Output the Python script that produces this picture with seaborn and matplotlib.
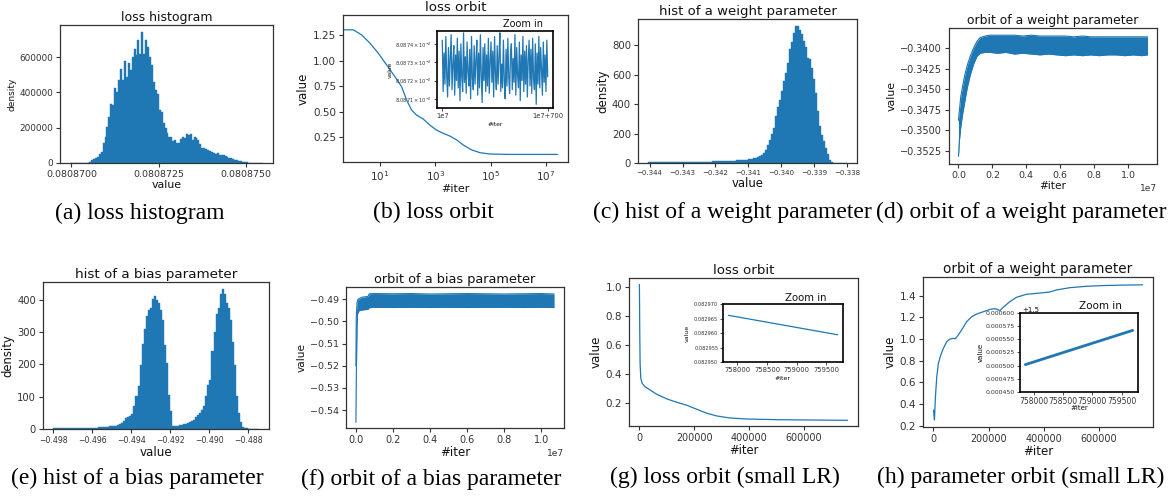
import numpy as np
import pandas as pd
import matplotlib
matplotlib.use("Agg")
import matplotlib.pyplot as plt
from matplotlib import ticker
import seaborn as sns

sns.set_theme(style="ticks")
plt.rcParams["font.family"] = ["DejaVu Sans"]
plt.rcParams.update({
    "axes.edgecolor": "#333333",
    "axes.linewidth": 0.9,
    "xtick.color": "#333333",
    "ytick.color": "#333333",
    "xtick.major.size": 3,
    "ytick.major.size": 3,
    "xtick.major.width": 0.8,
    "ytick.major.width": 0.8,
    "xtick.major.pad": 2,
    "ytick.major.pad": 2,
    "axes.labelcolor": "#111111",
    "text.color": "#111111",
    "mathtext.fontset": "dejavusans",
    "axes.unicode_minus": True,
})

BLUE = "#1f77b4"
W, H = 1174, 499

# ---------------------------------------------------------------- data
# (a) loss histogram (density per bin)
loss_hist_range = (0.08086995, 0.0808755)
loss_hist_heights = [
    300, 300, 400, 400, 500, 600, 800, 1000, 1500, 2500,
    5000, 15000, 25000, 30000, 34000, 50000, 65000, 112000, 150000, 206000,
    262000, 334000, 328000, 427000, 403000, 469000, 534000, 469000, 577000, 487000,
    566000, 525000, 600000, 647000, 609000, 694000, 619000, 744000, 619000, 694000,
    656000, 600000, 553000, 459000, 412000, 390000, 300000, 290000, 225000, 197000,
    169000, 146000, 150000, 122000, 131000, 112000, 112000, 137000, 146000, 141000,
    165000, 159000, 165000, 131000, 150000, 141000, 128000, 109000, 84000, 84000,
    79000, 71000, 66000, 60000, 56000, 52000, 56000, 47000, 45000, 47000,
    41000, 34000, 28000, 26000, 22000, 19000, 15000, 11000, 9000, 7500,
    5600, 3700, 2000, 1500, 800, 500, 300, 200, 100, 100,
]

# (b) loss orbit (log x)
loss_iter = [0.4, 1.09, 2.19, 4.37, 8.7, 17.4, 34.7, 60.3, 91.2, 138, 209, 363,
             631, 1096, 1905, 3311, 5888, 10233, 20417, 40738, 93325, 489779, 2.57e7]
loss_value = [1.30, 1.30, 1.25, 1.169, 1.071, 0.957, 0.842, 0.745, 0.615, 0.517, 0.468,
              0.429, 0.370, 0.321, 0.289, 0.263, 0.224, 0.175, 0.127, 0.100, 0.087, 0.083, 0.083]
# (b) inset: loss over iterations 1e7 .. 1e7+700
zoom_b_loss = [
    0.0808742, 0.0808714, 0.0808735, 0.0808718, 0.0808744, 0.0808723, 0.0808711, 0.0808738, 0.0808717, 0.0808732,
    0.0808745, 0.0808715, 0.0808728, 0.0808739, 0.0808712, 0.0808734, 0.0808720, 0.0808743, 0.0808716, 0.0808736,
    0.0808709, 0.0808740, 0.0808722, 0.0808714, 0.0808746, 0.0808719, 0.0808733, 0.0808713, 0.0808741, 0.0808725,
    0.0808717, 0.0808737, 0.0808710, 0.0808744, 0.0808721, 0.0808715, 0.0808739, 0.0808718, 0.0808731, 0.0808742,
    0.0808712, 0.0808735, 0.0808716, 0.0808745, 0.0808723, 0.0808708, 0.0808738, 0.0808720, 0.0808740, 0.0808714,
    0.0808734, 0.0808717, 0.0808743, 0.0808713, 0.0808730, 0.0808741, 0.0808719, 0.0808736, 0.0808711, 0.0808744,
    0.0808724, 0.0808715, 0.0808739, 0.0808718, 0.0808733, 0.0808746, 0.0808714, 0.0808729, 0.0808716, 0.0808742,
    0.0808720, 0.0808710, 0.0808737, 0.0808717, 0.0808743, 0.0808722, 0.0808713, 0.0808735, 0.0808740, 0.0808715,
    0.0808732, 0.0808719, 0.0808745, 0.0808712, 0.0808738, 0.0808723, 0.0808716, 0.0808741, 0.0808709, 0.0808734,
    0.0808720, 0.0808744, 0.0808714, 0.0808736, 0.0808718, 0.0808739, 0.0808711, 0.0808731, 0.0808742, 0.0808717,
    0.0808737, 0.0808713, 0.0808743, 0.0808721, 0.0808715, 0.0808740, 0.0808707, 0.0808735, 0.0808718, 0.0808744,
    0.0808716, 0.0808738, 0.0808726, 0.0808712, 0.0808741, 0.0808719, 0.0808734, 0.0808714, 0.0808742, 0.0808722,
]
zoom_b_start, zoom_b_span = 1e7, 700

# (c) histogram of a weight parameter
weight_hist_range = (-0.34405, -0.33800)
weight_hist_heights = (
    [6, 7, 7, 7, 7, 7, 7, 7, 7, 7, 7, 7, 7, 7, 7, 7, 7, 7, 7, 7, 7, 7, 7, 7, 7, 7, 7, 7, 7, 7, 7, 8]
    + [13, 14, 14, 14, 14, 14, 14, 14, 14, 15, 15, 16]
    + [17, 18, 18, 18, 19, 20]
    + [27, 28, 30, 32, 35, 40]
    + [45, 54, 68, 90, 120, 154, 197, 238, 317, 380, 430, 487, 555, 612, 680, 770, 822, 884,
       930, 929, 902, 872, 827, 789, 714, 702, 646, 571, 476, 351, 254, 193, 147, 102, 61, 23, 9]
    + [3, 2, 2, 1, 1, 1, 1]
)

# (d) orbit of a weight parameter: envelope of the oscillating trajectory
d_iter = [0, 59000, 137000, 255000, 390000, 530000, 690000, 880000, 1080000, 1270000,
          1570000, 1860000, 2300000, 2800000, 3300000, 3800000, 4300000, 4800000, 5300000, 5800000,
          6300000, 6800000, 7300000, 7800000, 8300000, 8800000, 9300000, 9800000, 10300000, 10800000,
          11140000]
d_upper = [-0.3488, -0.3475, -0.3459, -0.3445, -0.3431, -0.3420, -0.3410, -0.3400, -0.3392, -0.3387,
           -0.3385, -0.3384, -0.3384, -0.3384, -0.3384, -0.3385, -0.3384, -0.3385, -0.3385, -0.3385,
           -0.3385, -0.3386, -0.3385, -0.3386, -0.3386, -0.3386, -0.3386, -0.3386, -0.3386, -0.3386,
           -0.3386]
d_lower = [-0.3532, -0.3512, -0.3496, -0.3479, -0.3463, -0.3447, -0.3433, -0.3420, -0.3410, -0.3406,
           -0.3405, -0.3405, -0.3406, -0.3405, -0.3407, -0.3406, -0.3407, -0.3408, -0.3407, -0.3408,
           -0.3409, -0.3408, -0.3409, -0.3408, -0.3409, -0.3408, -0.3408, -0.3409, -0.3408, -0.3409,
           -0.3408]

# (e) histogram of a bias parameter
bias_hist_range = (-0.4980, -0.48747)
bias_hist_heights = (
    [2, 3, 3, 2, 3, 3, 3, 2, 3, 3, 3, 3, 3, 3, 3, 4, 3, 3, 4, 4, 4, 4]
    + [5, 5, 5, 6]
    + [7, 8, 8, 9]
    + [10, 12, 15]
    + [18, 26, 34, 37, 39, 47, 70, 101, 132, 199, 263, 309, 348, 369, 374, 402, 412, 400,
       390, 369, 336, 261, 204, 106, 55]
    + [10, 8, 9, 13, 13, 14, 16, 18, 21, 24, 29, 37, 42, 49, 60, 70, 101, 137, 153, 240,
       301, 357, 374, 418, 433, 418, 390, 374, 338, 270, 199, 101, 49, 21, 6, 3]
    + [2, 1, 1, 1, 1, 1]
)

# (f) orbit of a bias parameter: envelope
f_iter = [0, 15000, 30000, 60000, 90000, 180000, 360000, 650000, 720000, 1000000,
          2000000, 3000000, 4000000, 5000000, 6000000, 7000000, 8000000, 9000000, 10000000, 10680000]
f_upper = [-0.5200, -0.5000, -0.4960, -0.4915, -0.4903, -0.4896, -0.4890, -0.4887, -0.4875, -0.4874,
           -0.4875, -0.4874, -0.4876, -0.4875, -0.4874, -0.4875, -0.4876, -0.4875, -0.4874, -0.4876]
f_lower = [-0.5456, -0.5300, -0.5200, -0.5020, -0.4965, -0.4950, -0.4948, -0.4945, -0.4938, -0.4936,
           -0.4937, -0.4936, -0.4937, -0.4936, -0.4937, -0.4936, -0.4936, -0.4937, -0.4936, -0.4937]

# (g) loss orbit (small LR)
g_iter = [0, 1300, 2500, 5000, 10000, 20000, 39000, 63000, 100000, 136000, 172000, 209000,
          245000, 282000, 330000, 391000, 512000, 634000, 759000]
g_loss = [1.015, 0.680, 0.475, 0.372, 0.337, 0.314, 0.291, 0.262, 0.230, 0.207, 0.187, 0.159,
          0.132, 0.113, 0.099, 0.092, 0.087, 0.085, 0.083]
g_zoom_iter = [757850, 759690]
g_zoom_loss = [0.0829661, 0.0829594]

# (h) orbit of a weight parameter (small LR)
h_iter = [0, 3600, 7200, 12000, 18000, 26500, 36000, 48000, 60000, 72000, 79500, 90000, 102000,
          120500, 138600, 156700, 180800, 204900, 223000, 231000, 241000, 253000, 277000, 301000,
          337000, 373500, 421700, 446000, 494000, 554000, 615000, 687000, 759000]
h_value = [0.344, 0.252, 0.467, 0.652, 0.776, 0.852, 0.914, 0.975, 1.000, 1.006, 1.003, 1.037, 1.083,
           1.160, 1.206, 1.231, 1.252, 1.274, 1.280, 1.274, 1.262, 1.293, 1.345, 1.385,
           1.413, 1.422, 1.434, 1.453, 1.474, 1.487, 1.494, 1.498, 1.5006]
h_zoom_iter = [757850, 759690]
h_zoom_value = [1.500502, 1.500567]

captions = ["(a) loss histogram", "(b) loss orbit", "(c) hist of a weight parameter",
            "(d) orbit of a weight parameter", "(e) hist of a bias parameter",
            "(f) orbit of a bias parameter", "(g) loss orbit (small LR)",
            "(h) parameter orbit (small LR)"]
zoom_ticks_small = [758000, 758500, 759000, 759500]

# ---------------------------------------------------------------- helpers
fig = plt.figure(figsize=(W / 100, H / 100), dpi=100)
fig.patch.set_facecolor("white")


def px_axes(l, t, r, b):
    return fig.add_axes([l / W, 1 - b / H, (r - l) / W, (b - t) / H])


def finish(ax, title, xlabel, ylabel, tfs, xtfs, ytfs, xlfs, ylfs):
    ax.set_title(title, fontsize=tfs, pad=3, color="#111111")
    ax.set_xlabel(xlabel, fontsize=xlfs, labelpad=1)
    ax.set_ylabel(ylabel, fontsize=ylfs, labelpad=2)
    ax.tick_params(axis="x", labelsize=xtfs)
    ax.tick_params(axis="y", labelsize=ytfs)


def minus_fmt(fmt):
    return ticker.FuncFormatter(lambda v, _: (fmt % v).replace("-", "\u2212"))


def draw_hist(ax, rng, heights):
    n = len(heights)
    width = (rng[1] - rng[0]) / n
    df = pd.DataFrame({"center": [rng[0] + (i + 0.5) * width for i in range(n)],
                       "height": [float(h) for h in heights]})
    sns.histplot(data=df, x="center", weights="height", bins=n, binrange=rng, ax=ax,
                 color=BLUE, alpha=1, edgecolor=BLUE, linewidth=0.3)


def inset_style(ax, tick_fs_x, tick_fs_y, label_fs, ylab_x, xlab_y, zx, zfs):
    for s in ax.spines.values():
        s.set_color("black")
        s.set_linewidth(1.2)
    ax.tick_params(axis="both", length=2, width=0.6, pad=1.5)
    ax.tick_params(axis="x", labelsize=tick_fs_x)
    ax.tick_params(axis="y", labelsize=tick_fs_y)
    ax.set_xlabel("#iter", fontsize=label_fs)
    ax.set_ylabel("value", fontsize=label_fs)
    ax.yaxis.set_label_coords(ylab_x, 0.5)
    ax.xaxis.set_label_coords(0.5, xlab_y)
    ax.text(zx, 1.025, "Zoom in", transform=ax.transAxes, ha="left", va="bottom", fontsize=zfs)


# ---------------------------------------------------------------- (a)
ax = px_axes(60, 25, 273, 163)
draw_hist(ax, loss_hist_range, loss_hist_heights)
ax.xaxis.set_major_locator(ticker.FixedLocator([0.08087, 0.0808725, 0.080875]))
ax.xaxis.set_major_formatter(ticker.FormatStrFormatter("%.7f"))
ax.yaxis.set_major_locator(ticker.FixedLocator([0, 200000, 400000, 600000]))
ax.yaxis.set_major_formatter(ticker.FormatStrFormatter("%d"))
finish(ax, "loss histogram", "value", "density", 9, 6.8, 6.4, 7.9, 6.5)

# ---------------------------------------------------------------- (b)
ax = px_axes(343, 15, 568, 162)
ax.set_xscale("log")
sns.lineplot(x=loss_iter, y=loss_value, ax=ax, color=BLUE, linewidth=0.9, estimator=None, sort=False)
ax.set_xlim(10 ** -0.336, 10 ** 7.79)
ax.set_ylim(0.009, 1.445)
ax.xaxis.set_major_locator(ticker.FixedLocator([10, 1e3, 1e5, 1e7]))
ax.xaxis.set_major_formatter(ticker.LogFormatterSciNotation())
ax.xaxis.set_minor_locator(ticker.NullLocator())
ax.yaxis.set_major_locator(ticker.FixedLocator([0.25, 0.5, 0.75, 1.0, 1.25]))
ax.yaxis.set_major_formatter(ticker.FormatStrFormatter("%.2f"))
finish(ax, "loss orbit", "#iter", "value", 9.6, 7.5, 7.5, 8, 8.5)

axi = px_axes(437, 31, 553, 108)
zb_x = np.linspace(zoom_b_start, zoom_b_start + zoom_b_span, len(zoom_b_loss))
sns.lineplot(x=zb_x, y=zoom_b_loss, ax=axi, color=BLUE, linewidth=0.9, estimator=None, sort=False)
axi.set_ylim(0.0808705, 0.0808747)
axi.yaxis.set_major_locator(ticker.FixedLocator([0.080871, 0.080872, 0.080873, 0.080874]))
axi.yaxis.set_major_formatter(ticker.FuncFormatter(lambda v, _: r"$%.4f\times10^{-2}$" % (v * 100)))
axi.xaxis.set_major_locator(ticker.FixedLocator([zoom_b_start, zoom_b_start + zoom_b_span]))
axi.xaxis.set_major_formatter(ticker.FixedFormatter(["1e7", "1e7+700"]))
inset_style(axi, 4.9, 3.6, 4.3, -0.38, -0.18, 0.57, 7)

# ---------------------------------------------------------------- (c)
ax = px_axes(638, 19, 857, 163)
draw_hist(ax, weight_hist_range, weight_hist_heights)
ax.xaxis.set_major_locator(ticker.FixedLocator([-0.344, -0.343, -0.342, -0.341, -0.340, -0.339, -0.338]))
ax.xaxis.set_major_formatter(minus_fmt("%.3f"))
ax.yaxis.set_major_locator(ticker.FixedLocator([0, 200, 400, 600, 800]))
ax.yaxis.set_major_formatter(ticker.FormatStrFormatter("%d"))
finish(ax, "hist of a weight parameter", "value", "density", 9.5, 5.0, 7.3, 8.4, 8.5)

# ---------------------------------------------------------------- (d)
ax = px_axes(949, 28, 1157, 164)
ax.fill_between(d_iter, d_lower, d_upper, color=BLUE, linewidth=0)
sns.lineplot(x=d_iter, y=d_upper, ax=ax, color=BLUE, linewidth=0.8, estimator=None, sort=False)
sns.lineplot(x=d_iter, y=d_lower, ax=ax, color=BLUE, linewidth=0.8, estimator=None, sort=False)
ax.set_ylim(-0.35413, -0.33752)
ax.yaxis.set_major_locator(ticker.FixedLocator([-0.3525, -0.35, -0.3475, -0.345, -0.3425, -0.34]))
ax.yaxis.set_major_formatter(minus_fmt("%.4f"))
ax.xaxis.set_major_locator(ticker.FixedLocator([0, 2e6, 4e6, 6e6, 8e6, 1e7]))
finish(ax, "orbit of a weight parameter", "#iter", "value", 8.9, 6.8, 7.0, 7.6, 7.9)
ax.xaxis.get_offset_text().set_fontsize(6.5)

# ---------------------------------------------------------------- (e)
ax = px_axes(43, 282, 269, 429)
draw_hist(ax, bias_hist_range, bias_hist_heights)
ax.xaxis.set_major_locator(ticker.FixedLocator([-0.498, -0.496, -0.494, -0.492, -0.490, -0.488]))
ax.xaxis.set_major_formatter(minus_fmt("%.3f"))
ax.yaxis.set_major_locator(ticker.FixedLocator([0, 100, 200, 300, 400]))
ax.yaxis.set_major_formatter(ticker.FormatStrFormatter("%d"))
finish(ax, "hist of a bias parameter", "value", "density", 9.7, 5.6, 7.2, 8.6, 8.4)

# ---------------------------------------------------------------- (f)
ax = px_axes(346, 287, 564, 428)
ax.fill_between(f_iter, f_lower, f_upper, color=BLUE, linewidth=0)
sns.lineplot(x=f_iter, y=f_upper, ax=ax, color=BLUE, linewidth=0.8, estimator=None, sort=False)
sns.lineplot(x=f_iter, y=f_lower, ax=ax, color=BLUE, linewidth=0.8, estimator=None, sort=False)
ax.set_ylim(-0.54813, -0.48444)
ax.yaxis.set_major_locator(ticker.FixedLocator([-0.54, -0.53, -0.52, -0.51, -0.50, -0.49]))
ax.yaxis.set_major_formatter(minus_fmt("%.2f"))
ax.xaxis.set_major_locator(ticker.FixedLocator([0, 2e6, 4e6, 6e6, 8e6, 1e7]))
finish(ax, "orbit of a bias parameter", "#iter", "value", 9.3, 7.0, 6.8, 8.5, 7.6)
ax.xaxis.get_offset_text().set_fontsize(6.5)

# ---------------------------------------------------------------- (g)
ax = px_axes(629, 278, 858, 426)
sns.lineplot(x=g_iter, y=g_loss, ax=ax, color=BLUE, linewidth=0.9, estimator=None, sort=False)
ax.set_ylim(0.044, 1.06)
ax.yaxis.set_major_locator(ticker.FixedLocator([0.2, 0.4, 0.6, 0.8, 1.0]))
ax.yaxis.set_major_formatter(ticker.FormatStrFormatter("%.1f"))
ax.xaxis.set_major_locator(ticker.FixedLocator([0, 200000, 400000, 600000]))
ax.xaxis.set_major_formatter(ticker.FormatStrFormatter("%d"))
finish(ax, "loss orbit", "#iter", "value", 9.6, 6.9, 7.5, 8.3, 8.5)

axi = px_axes(723, 304, 843, 362)
sns.lineplot(x=g_zoom_iter, y=g_zoom_loss, ax=axi, color=BLUE, linewidth=0.9, estimator=None, sort=False)
axi.set_ylim(0.08295, 0.08297)
axi.yaxis.set_major_locator(ticker.FixedLocator([0.08295, 0.082955, 0.08296, 0.082965, 0.08297]))
axi.yaxis.set_major_formatter(ticker.FormatStrFormatter("%.6f"))
axi.xaxis.set_major_locator(ticker.FixedLocator(zoom_ticks_small))
axi.xaxis.set_major_formatter(ticker.FormatStrFormatter("%d"))
inset_style(axi, 4.9, 3.6, 4.5, -0.28, -0.25, 0.52, 7.3)

# ---------------------------------------------------------------- (h)
ax = px_axes(923, 277, 1153, 427)
sns.lineplot(x=h_iter, y=h_value, ax=ax, color=BLUE, linewidth=0.9, estimator=None, sort=False)
ax.set_ylim(0.188, 1.573)
ax.yaxis.set_major_locator(ticker.FixedLocator([0.2, 0.4, 0.6, 0.8, 1.0, 1.2, 1.4]))
ax.yaxis.set_major_formatter(ticker.FormatStrFormatter("%.1f"))
ax.xaxis.set_major_locator(ticker.FixedLocator([0, 200000, 400000, 600000]))
ax.xaxis.set_major_formatter(ticker.FormatStrFormatter("%d"))
finish(ax, "orbit of a weight parameter", "#iter", "value", 9.8, 6.9, 7.5, 8.5, 8.5)

axi = px_axes(1020, 313, 1138, 392)
sns.lineplot(x=h_zoom_iter, y=h_zoom_value, ax=axi, color=BLUE, linewidth=2.0, estimator=None, sort=False)
axi.set_ylim(1.50045, 1.5006)
axi.yaxis.set_major_locator(ticker.FixedLocator([1.50045, 1.500475, 1.5005, 1.500525, 1.50055, 1.500575, 1.5006]))
axi.yaxis.set_major_formatter(ticker.FuncFormatter(lambda v, _: "%.6f" % (v - 1.5)))
axi.xaxis.set_major_locator(ticker.FixedLocator(zoom_ticks_small))
axi.xaxis.set_major_formatter(ticker.FormatStrFormatter("%d"))
inset_style(axi, 5.5, 4.5, 5.0, -0.31, -0.17, 0.5, 7.5)
axi.text(0.02, 1.005, "+1.5", transform=axi.transAxes, ha="left", va="bottom", fontsize=5.0)

# ---------------------------------------------------------------- captions
cap_pos = [(140, 213), (433, 212), (732, 212), (1021, 212),
           (137, 478), (431, 479), (725, 477), (1021, 477)]
for text, (cx, cy) in zip(captions, cap_pos):
    fig.text(cx / W, 1 - cy / H, text, ha="center", va="center", fontsize=17,
             family=["Liberation Serif", "DejaVu Serif"], color="black")

fig.savefig("out.png", dpi=100, facecolor="white")
